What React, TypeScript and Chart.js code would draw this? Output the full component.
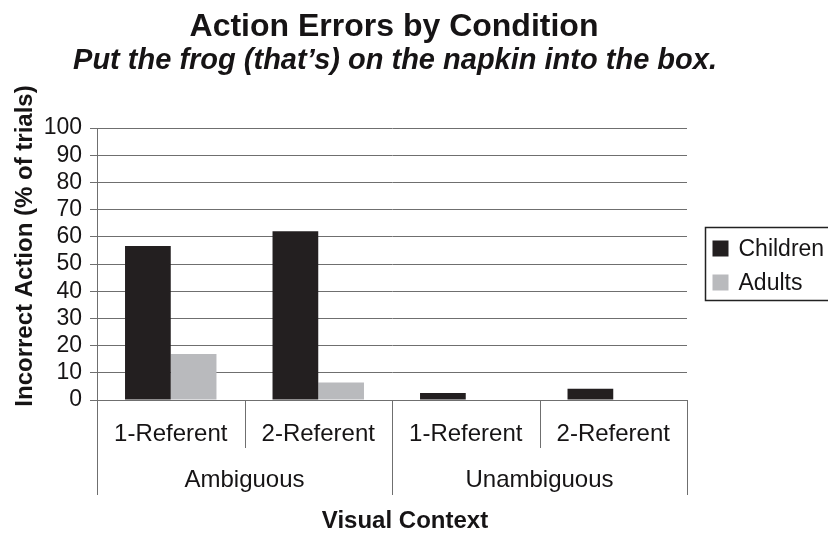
import React, { useEffect, useRef } from "react";
import { Chart, registerables } from "chart.js";

Chart.register(...registerables);

const titleText = "Action Errors by Condition";
const subtitleText = "Put the frog (that\u2019s) on the napkin into the box.";
const yTitle = "Incorrect Action (% of trials)";
const xTitle = "Visual Context";
const categories = ["1-Referent", "2-Referent", "1-Referent", "2-Referent"];
const groups = ["Ambiguous", "Unambiguous"];
const groupSizes = [2, 2];
const seriesNames = ["Children", "Adults"];
const children = [56.6, 62.0, 2.6, 4.1];
const adults = [16.9, 6.4, 0, 0];
const yMin = 0;
const yMax = 100;
const yStep = 10;

const FONT = '"Liberation Sans", Arial, Helvetica, sans-serif';
const TEXT = "#161415";
const LINE = "#6f6f6f";
const COLORS = ["#231f20", "#b9babd"];

const customPlugin = {
  id: "custom",
  afterDraw(chart: any) {
    const { ctx, chartArea: ca } = chart;
    const x = chart.scales.x;
    const n = categories.length;
    const step = x.getPixelForValue(1) - x.getPixelForValue(0);
    const cx = (ca.left + ca.right) / 2;
    ctx.save();
    ctx.fillStyle = TEXT;
    ctx.textAlign = "center";
    // titles
    ctx.textBaseline = "alphabetic";
    ctx.font = `bold 32px ${FONT}`;
    ctx.fillText(titleText, cx + 2, 36);
    ctx.font = `italic bold 29px ${FONT}`;
    ctx.fillText(subtitleText, cx + 3, 69);

    // y title
    ctx.save();
    ctx.translate(25, ca.top + 118);
    ctx.rotate(-Math.PI / 2);
    ctx.font = `bold 24px ${FONT}`;
    ctx.textBaseline = "middle";
    ctx.fillText(yTitle, 0, 0);
    ctx.restore();

    // group boundaries
    const groupBounds = new Set<number>();
    let acc = 0;
    groupBounds.add(0);
    groupSizes.forEach((s) => {
      acc += s;
      groupBounds.add(acc);
    });
    ctx.strokeStyle = LINE;
    ctx.lineWidth = 1;
    for (let i = 0; i <= n; i++) {
      const bx = Math.round(
        i < n ? x.getPixelForValue(i) - step / 2 : x.getPixelForValue(n - 1) + step / 2
      ) + 0.5;
      const len = groupBounds.has(i) ? 95 : 48;
      ctx.beginPath();
      ctx.moveTo(bx, ca.bottom);
      ctx.lineTo(bx, ca.bottom + len);
      ctx.stroke();
    }
    // category labels
    ctx.textBaseline = "middle";
    ctx.font = `24px ${FONT}`;
    categories.forEach((c, i) => {
      ctx.fillText(c, x.getPixelForValue(i), ca.bottom + 34);
    });
    // group labels
    let start = 0;
    groups.forEach((g, gi) => {
      const end = start + groupSizes[gi] - 1;
      const gx = (x.getPixelForValue(start) + x.getPixelForValue(end)) / 2;
      ctx.fillText(g, gx, ca.bottom + 80);
      start = end + 1;
    });
    // x title
    ctx.font = `bold 24px ${FONT}`;
    ctx.fillText(xTitle, cx + 13, ca.bottom + 121);

    // legend (box runs off the right edge of the canvas)
    const lx = ca.right + 18.5;
    const ly = 227.5;
    const lh = 73;
    ctx.strokeStyle = "#222";
    ctx.lineWidth = 1.5;
    ctx.beginPath();
    ctx.moveTo(chart.width + 2, ly);
    ctx.lineTo(lx, ly);
    ctx.lineTo(lx, ly + lh);
    ctx.lineTo(chart.width + 2, ly + lh);
    ctx.stroke();
    ctx.font = `23px ${FONT}`;
    ctx.textAlign = "left";
    chart.data.datasets.forEach((ds: any, i: number) => {
      const yy = ly + 21 + i * 34;
      ctx.fillStyle = ds.backgroundColor;
      ctx.fillRect(lx + 7, yy - 8, 16, 16);
      ctx.fillStyle = TEXT;
      ctx.fillText(ds.label, lx + 33, yy + 1);
    });
    ctx.restore();
  },
};

export default function App() {
  const ref = useRef<HTMLCanvasElement>(null);
  useEffect(() => {
    document.body.style.margin = "0";
    const chart = new Chart(ref.current!, {
      type: "bar",
      data: {
        labels: categories,
        datasets: [
          {
            label: seriesNames[0],
            data: children,
            backgroundColor: COLORS[0],
            categoryPercentage: 0.62,
            barPercentage: 1,
          },
          {
            label: seriesNames[1],
            data: adults,
            backgroundColor: COLORS[1],
            categoryPercentage: 0.62,
            barPercentage: 1,
          },
        ],
      },
      options: {
        responsive: false,
        animation: false,
        layout: { padding: { left: 0, top: 128, right: 141, bottom: 138 } },
        plugins: {
          legend: { display: false },
          title: { display: false },
          tooltip: { enabled: false },
        },
        scales: {
          x: {
            ticks: { display: false },
            grid: { display: false },
            border: { display: false },
            afterFit: (s: any) => {
              s.height = 0;
            },
          },
          y: {
            min: yMin,
            max: yMax,
            ticks: {
              stepSize: yStep,
              autoSkip: false,
              color: TEXT,
              font: { family: FONT, size: 23 },
              padding: 8,
            },
            grid: { color: LINE, lineWidth: 1, tickLength: 7 },
            border: { display: true, color: LINE, width: 1 },
            afterFit: (s: any) => {
              s.width = 97;
            },
          },
        },
      },
      plugins: [customPlugin],
    });
    return () => chart.destroy();
  }, []);
  return <canvas ref={ref} width={828} height={538} style={{ display: "block" }} />;
}
